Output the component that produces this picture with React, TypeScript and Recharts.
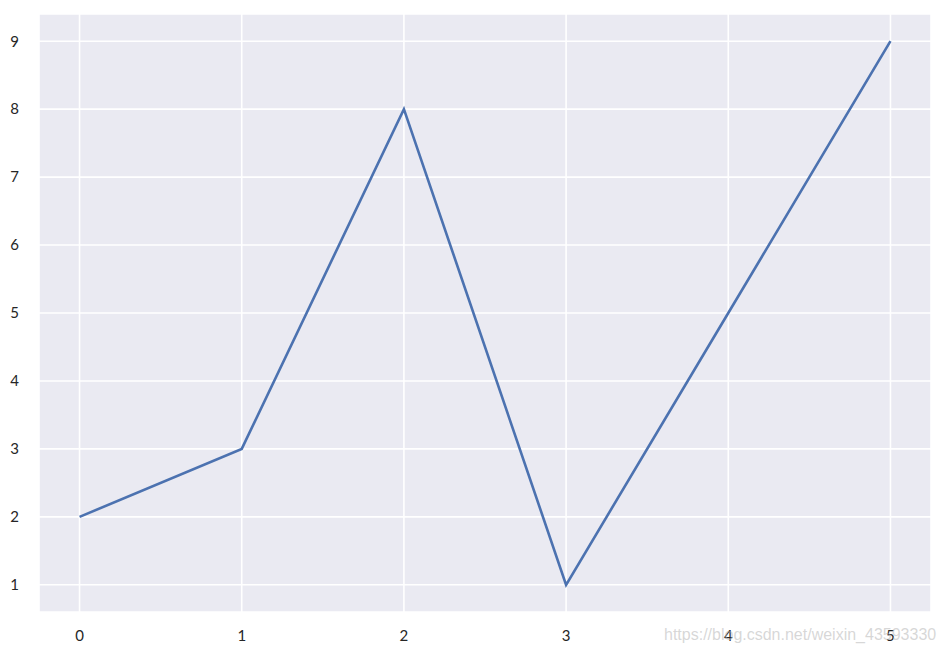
import { LineChart, Line, XAxis, YAxis, CartesianGrid } from "recharts";

const xValues = [0, 1, 2, 3, 4, 5];
const yValues = [2, 3, 8, 1, 5, 9];
const xTicks = [0, 1, 2, 3, 4, 5];
const yTicks = [1, 2, 3, 4, 5, 6, 7, 8, 9];

const data = xValues.map((x, i) => ({ x, y: yValues[i] }));

const tickStyle = { fill: "#262626", fontSize: 15, fontFamily: "Lato, 'DejaVu Sans', sans-serif" };

const App = () => {
  return (
    <div style={{ position: "absolute", left: 0, top: 0, width: 945, height: 655, background: "#fff" }}>
      <LineChart width={945} height={655} data={data} margin={{ top: 14, right: 14, left: 0, bottom: 0 }}>
        <CartesianGrid fill="#EAEAF2" stroke="#ffffff" strokeWidth={1.6} />
        <XAxis
          dataKey="x"
          type="number"
          domain={[-0.25, 5.25]}
          ticks={xTicks}
          height={43}
          axisLine={false}
          tickLine={false}
          tick={tickStyle}
          tickMargin={12}
        />
        <YAxis
          type="number"
          domain={[0.6, 9.4]}
          ticks={yTicks}
          width={39}
          axisLine={false}
          tickLine={false}
          tick={tickStyle}
          tickMargin={14}
        />
        <Line
          type="linear"
          dataKey="y"
          stroke="#4C72B0"
          strokeWidth={2.6}
          dot={false}
          isAnimationActive={false}
        />
      </LineChart>
      {/* csdn watermark, sits over the 4 and 5 labels as in the source image */}
      <div
        style={{
          position: "absolute",
          left: 664,
          top: 626,
          fontFamily: "Arial, 'Liberation Sans', sans-serif",
          fontSize: 16,
          color: "rgba(175,175,175,0.5)",
          whiteSpace: "nowrap",
        }}
      >
        https://blog.csdn.net/weixin_43593330
      </div>
    </div>
  );
};

export default App;
